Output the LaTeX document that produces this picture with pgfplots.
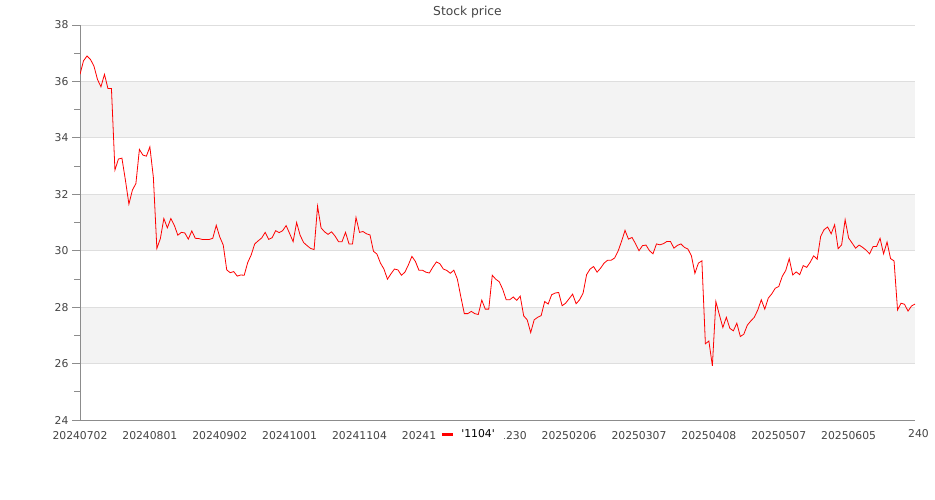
\documentclass[border=0pt]{standalone}
\usepackage{fontspec}
\setmainfont{DejaVu Sans}
\usepackage{pgfplots}
\pgfplotsset{compat=1.18}
\definecolor{tickgray}{RGB}{68,68,68}
\definecolor{axisgray}{RGB}{140,140,140}
\definecolor{gridgray}{RGB}{222,222,222}
\definecolor{bandgray}{RGB}{243,243,243}
\newcommand\tickfont{\fontsize{10.8bp}{13bp}\selectfont}

\begin{document}
\begin{tikzpicture}
\path (0bp,0bp) rectangle (935bp,500bp);
\node[anchor=base, text=tickgray, font=\fontsize{12.3bp}{14bp}\selectfont] at (467.5bp,484.3bp) {Stock price};
\begin{axis}[
    set layers,
    at={(80bp,80bp)}, anchor=south west,
    scale only axis, width=835bp, height=395bp,
    xmin=0, xmax=239, ymin=24, ymax=38,
    axis lines*=left,
    axis line style={axisgray, line width=0.8bp},
    ytick={24,26,...,38},
    minor ytick={25,27,...,37},
    xtick={0,20,...,220},
    xticklabels={20240702,20240801,20240902,20241001,20241104,20241202,20241230,20250206,20250307,20250408,20250507,20250605},
    ymajorgrids,
    major grid style={gridgray, line width=0.8bp},
    tick align=outside,
    major tick length=8bp, minor tick length=6bp,
    ytick style={axisgray, line width=0.8bp},
    xtick style={draw=none},
    tick label style={font=\tickfont, text=tickgray},
    /pgf/number format/assume math mode=true,
    legend style={at={(rel axis cs:0.4671,-0.0362)}, anchor=center,
        fill=white, draw=none, font=\tickfont, inner xsep=4bp, inner ysep=1bp},
    legend image code/.code={\draw[#1, line width=3bp] (0bp,0bp) -- (11bp,0bp);},
]
\begin{pgfonlayer}{axis background}
\fill[bandgray] (axis cs:0,34) rectangle (axis cs:239,36);
\fill[bandgray] (axis cs:0,30) rectangle (axis cs:239,32);
\fill[bandgray] (axis cs:0,26) rectangle (axis cs:239,28);
\end{pgfonlayer}
% closing price, one point per trading day
\addplot[red, line width=0.8bp, mark=none] coordinates {
(0,36.25) (1,36.73) (2,36.90) (3,36.78) (4,36.54) (5,36.07) (6,35.81) (7,36.25) (8,35.75) (9,35.75)
(10,32.86) (11,33.25) (12,33.28) (13,32.50) (14,31.65) (15,32.15) (16,32.38) (17,33.59) (18,33.39) (19,33.35)
(20,33.68) (21,32.60) (22,30.08) (23,30.43) (24,31.14) (25,30.81) (26,31.14) (27,30.90) (28,30.55) (29,30.65)
(30,30.63) (31,30.41) (32,30.70) (33,30.44) (34,30.43) (35,30.40) (36,30.40) (37,30.40) (38,30.44) (39,30.90)
(40,30.49) (41,30.20) (42,29.32) (43,29.22) (44,29.26) (45,29.10) (46,29.14) (47,29.13) (48,29.58) (49,29.85)
(50,30.24) (51,30.35) (52,30.45) (53,30.65) (54,30.40) (55,30.46) (56,30.71) (57,30.64) (58,30.71) (59,30.89)
(60,30.61) (61,30.32) (62,31.00) (63,30.55) (64,30.29) (65,30.18) (66,30.08) (67,30.04) (68,31.58) (69,30.81)
(70,30.67) (71,30.58) (72,30.67) (73,30.52) (74,30.32) (75,30.32) (76,30.65) (77,30.24) (78,30.24) (79,31.18)
(80,30.65) (81,30.68) (82,30.60) (83,30.56) (84,29.98) (85,29.88) (86,29.56) (87,29.35) (88,28.99) (89,29.18)
(90,29.35) (91,29.32) (92,29.13) (93,29.24) (94,29.50) (95,29.80) (96,29.62) (97,29.31) (98,29.31) (99,29.24)
(100,29.21) (101,29.42) (102,29.60) (103,29.54) (104,29.35) (105,29.30) (106,29.20) (107,29.31) (108,29.00) (109,28.37)
(110,27.77) (111,27.77) (112,27.85) (113,27.77) (114,27.74) (115,28.25) (116,27.93) (117,27.93) (118,29.13) (119,28.99)
(120,28.90) (121,28.63) (122,28.26) (123,28.26) (124,28.36) (125,28.24) (126,28.39) (127,27.69) (128,27.55) (129,27.10)
(130,27.55) (131,27.64) (132,27.70) (133,28.20) (134,28.11) (135,28.44) (136,28.50) (137,28.52) (138,28.05) (139,28.14)
(140,28.30) (141,28.46) (142,28.12) (143,28.26) (144,28.50) (145,29.15) (146,29.35) (147,29.44) (148,29.24) (149,29.38)
(150,29.56) (151,29.66) (152,29.66) (153,29.74) (154,29.98) (155,30.33) (156,30.72) (157,30.41) (158,30.47) (159,30.25)
(160,30.00) (161,30.18) (162,30.20) (163,30.00) (164,29.89) (165,30.24) (166,30.21) (167,30.25) (168,30.33) (169,30.33)
(170,30.09) (171,30.19) (172,30.24) (173,30.12) (174,30.06) (175,29.82) (176,29.20) (177,29.56) (178,29.64) (179,26.70)
(180,26.80) (181,25.92) (182,28.20) (183,27.73) (184,27.28) (185,27.64) (186,27.25) (187,27.16) (188,27.43) (189,26.96)
(190,27.04) (191,27.36) (192,27.51) (193,27.64) (194,27.90) (195,28.26) (196,27.93) (197,28.32) (198,28.47) (199,28.67)
(200,28.73) (201,29.09) (202,29.30) (203,29.72) (204,29.14) (205,29.25) (206,29.15) (207,29.47) (208,29.41) (209,29.59)
(210,29.82) (211,29.70) (212,30.51) (213,30.75) (214,30.84) (215,30.60) (216,30.92) (217,30.07) (218,30.21) (219,31.10)
(220,30.45) (221,30.27) (222,30.09) (223,30.20) (224,30.12) (225,30.02) (226,29.89) (227,30.15) (228,30.15) (229,30.44)
(230,29.89) (231,30.31) (232,29.72) (233,29.64) (234,27.90) (235,28.14) (236,28.10) (237,27.86) (238,28.04) (239,28.11)
};
\legend{\hspace{5bp}\textquotesingle1104\textquotesingle\kern3bp}
\end{axis}
\node[anchor=base, text=tickgray, font=\tickfont] at (918.5bp,62bp) {240};
\end{tikzpicture}
\end{document}
